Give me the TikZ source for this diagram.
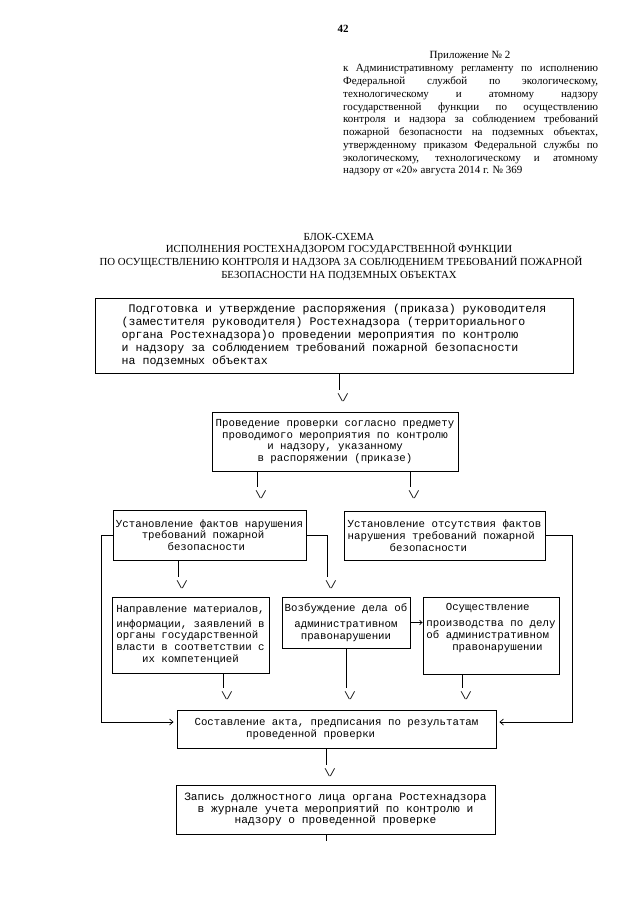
\documentclass[tikz,border=0pt]{standalone}
\usepackage{fontspec}
\setmainfont{Liberation Serif}
\setmonofont{Liberation Mono}
\usetikzlibrary{arrows.meta}
\newcommand\idt[1]{\hspace*{#1\dimexpr0.6em\relax}}
\newcommand\vmark{\textbackslash\kern-1.2pt/}
\begin{document}
\begin{tikzpicture}[x=1pt,y=-1pt,
  mono/.style={font=\ttfamily\fontsize{10.75}{11.8}\selectfont},
  box/.style={draw, line width=0.9pt, inner sep=0pt, mono},
  vee/.style={inner sep=0pt, anchor=north west, mono},
  link/.style={line width=0.8pt},
  side/.style={line width=0.8pt, -{Straight Barb[length=3.5pt,width=6pt,line width=0.7pt]}, shorten >=3pt},
  ser/.style={font=\fontsize{11}{12.75}\selectfont, inner sep=0pt},
  ttl/.style={font=\fontsize{10.8}{12.7}\selectfont, inner sep=0pt, anchor=base}
]
\fill[white] (0,0) rectangle (640,905);
\useasboundingbox (0,0) rectangle (640,905);

% page number and header
\node[ser, font=\bfseries\fontsize{11}{13}\selectfont, anchor=base] (pg) at (343,32) {42};
\node[ser, anchor=base] (app) at (470,58.5) {Приложение № 2};
\node[ser, anchor=north west, align=left] (hdr) at (343,64.5) {%
\makebox[255pt][s]{к Административному регламенту по исполнению}\\
\makebox[255pt][s]{Федеральной службой по экологическому,}\\
\makebox[255pt][s]{технологическому и атомному надзору}\\
\makebox[255pt][s]{государственной функции по осуществлению}\\
\makebox[255pt][s]{контроля и надзора за соблюдением требований}\\
\makebox[255pt][s]{пожарной безопасности на подземных объектах,}\\
\makebox[255pt][s]{утвержденному приказом Федеральной службы по}\\
\makebox[255pt][s]{экологическому, технологическому и атомному}\\
надзору от «20» августа 2014 г. № 369};

% title
\node[ttl] (t1) at (339,240) {БЛОК-СХЕМА};
\node[ttl] (t2) at (339,252.7) {ИСПОЛНЕНИЯ РОСТЕХНАДЗОРОМ ГОСУДАРСТВЕННОЙ ФУНКЦИИ};
\node[ttl] (t3) at (341,265.4) {ПО ОСУЩЕСТВЛЕНИЮ КОНТРОЛЯ И НАДЗОРА ЗА СОБЛЮДЕНИЕМ ТРЕБОВАНИЙ ПОЖАРНОЙ};
\node[ttl] (t4) at (339,278) {БЕЗОПАСНОСТИ НА ПОДЗЕМНЫХ ОБЪЕКТАХ};

% boxes
\node[box, font=\ttfamily\fontsize{11.6}{12.8}\selectfont, align=left,
  minimum width=478pt, minimum height=75pt] (b1) at (334,335.5) {%
\idt{1}Подготовка и утверждение распоряжения (приказа) руководителя\\
(заместителя руководителя) Ростехнадзора (территориального\\
органа Ростехнадзора)о проведении мероприятия по контролю\\
и надзору за соблюдением требований пожарной безопасности\\
на подземных объектах};

\node[box, align=center, minimum width=246pt, minimum height=59pt] (b2) at (335,441.5) {%
Проведение проверки согласно предмету\\
проводимого мероприятия по контролю\\
и надзору, указанному\\
в распоряжении (приказе)};

\node[box, align=left, minimum width=193pt, minimum height=50pt] (b3) at (209.5,535) {%
Установление фактов нарушения\\
\idt{4}требований пожарной\\
\idt{8}безопасности};

\node[box, align=left, minimum width=201pt, minimum height=49pt] (b4) at (444.5,535.5) {%
Установление отсутствия фактов\\
нарушения требований пожарной\\
\idt{6.5}безопасности};

\node[box, align=left, minimum width=157pt, minimum height=76pt] (b5) at (190.5,635) {%
Направление материалов,\\[3pt]
информации, заявлений в\\
органы государственной\\
власти в соответствии с\\
\idt{4}их компетенцией};

\node[box, align=center, minimum width=128pt, minimum height=51pt] (b6) at (346,622.5) {%
Возбуждение дела об\\[4pt]
административном\\
правонарушении};

\node[box, minimum width=136pt, minimum height=77pt] (b7) at (491,635.5) {%
\begin{tabular}{@{}l@{}}
\idt{3}Осуществление\\[4pt]
производства по делу\\
об административном\\
\idt{4}правонарушении\\[15pt]
\end{tabular}};

\node[box, align=left, minimum width=319pt, minimum height=38pt] (b8) at (336.5,729) {%
Составление акта, предписания по результатам\\
\idt{8}проведенной проверки};

\node[box, font=\ttfamily\fontsize{11.2}{11.6}\selectfont, align=center,
  minimum width=319pt, minimum height=49pt] (b9) at (335.5,809.5) {%
Запись должностного лица органа Ростехнадзора\\
в журнале учета мероприятий по контролю и\\
надзору о проведенной проверке};

% down connectors with "\/" marks
\coordinate (a1) at (339,390);
\node[vee] (v1) at (337,394) {\vmark};
\draw[link] (b1.south -| a1) -- (a1);

\coordinate (a2) at (257,487);
\node[vee] (v2) at (255,491) {\vmark};
\draw[link] (b2.south -| a2) -- (a2);

\coordinate (a3) at (410,487);
\node[vee] (v3) at (408,491) {\vmark};
\draw[link] (b2.south -| a3) -- (a3);

\coordinate (a4) at (178,577);
\node[vee] (v4) at (176,581) {\vmark};
\draw[link] (b3.south -| a4) -- (a4);

\coordinate (a5) at (327,577);
\node[vee] (v5) at (325,581) {\vmark};
\draw[link] (b3.east) -| (a5);

\coordinate (a6) at (223,688);
\node[vee] (v6) at (221,692) {\vmark};
\draw[link] (b5.south -| a6) -- (a6);

\coordinate (a7) at (346,688);
\node[vee] (v7) at (344,692) {\vmark};
\draw[link] (b6.south -| a7) -- (a7);

\coordinate (a8) at (462,688);
\node[vee] (v8) at (460,692) {\vmark};
\draw[link] (b7.south -| a8) -- (a8);

\coordinate (a9) at (326,765);
\node[vee] (v9) at (324,769) {\vmark};
\draw[link] (b8.south -| a9) -- (a9);

\coordinate (a10) at (326,841);
\draw[link] (b9.south -| a10) -- (a10);

% horizontal arrow between b6 and b7
\draw[line width=0.7pt, -{Straight Barb[length=2.5pt,width=4.5pt]}] (b6.east) -- (b6.east -| b7.west);

% side loops to b8
\coordinate (cL) at (101,722);
\draw[side] (b3.west) -| (cL) -- (b8.west |- cL);
\coordinate (cR) at (572,722);
\draw[side] (b4.east) -| (cR) -- (b8.east |- cR);
\end{tikzpicture}
\end{document}
